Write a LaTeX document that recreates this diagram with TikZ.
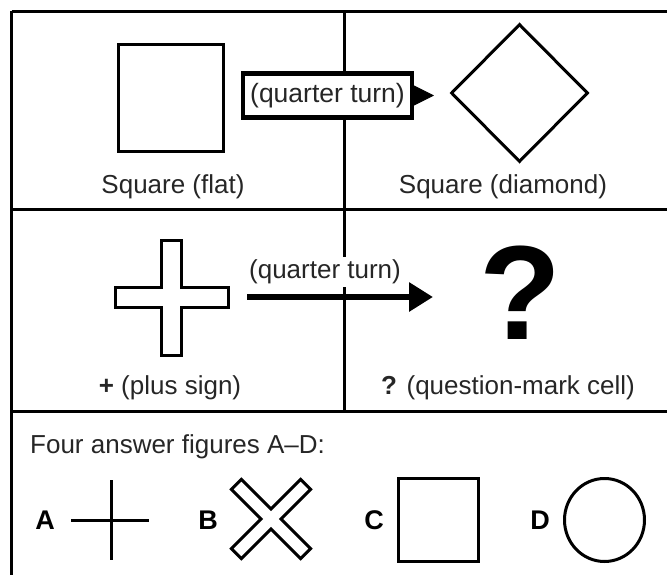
\documentclass[tikz,border=0pt]{standalone}
\usepackage{fontspec}
\setmainfont{Liberation Sans}
\usetikzlibrary{arrows.meta,shapes.geometric}
\begin{document}
\begin{tikzpicture}[x=1pt,y=-1pt,
  frame/.style={line width=3pt},
  shapeline/.style={line width=3pt, line join=miter},
  lbl/.style={inner sep=0pt, font=\fontsize{26}{30}\selectfont, text=black!85},
  letter/.style={inner sep=0pt, font=\fontsize{27}{30}\selectfont\bfseries},
  turnbox/.style={draw, line width=4.5pt, fill=white, minimum width=169pt, minimum height=44pt, inner sep=0pt, font=\fontsize{26.5}{30}\selectfont, text=black!85},
  bigarrow/.style={line width=6pt, -{Triangle[length=24pt,width=28pt]}},
  tiparrow/.style={line width=1pt, -{Triangle[length=22pt,width=22pt]}}
]
\useasboundingbox (0,0) rectangle (667,575);
\begin{scope}
\clip (0,0) rectangle (667,575);
% frame
\draw[frame] (11.5,11.5) -- (690,11.5);
\draw[frame] (11.5,11.5) -- (11.5,600);
\draw[frame] (11.5,209) -- (690,209);
\draw[frame] (11.5,411) -- (690,411);
\draw[frame] (344,11.5) -- (344,411);
\end{scope}

% row 1
\node[draw, shapeline, minimum width=105pt, minimum height=107pt, inner sep=0pt] (sqflat) at (170.5,98.5) {};
\node[draw, shapeline, shape=diamond, aspect=1, minimum width=137pt, minimum height=138pt, inner sep=0pt] (diam) at (519.5,93) {};
\node[turnbox] (qt1) at (327.5,95.5) {(quarter turn)};
\coordinate (t1) at (434,95.5);
\draw[tiparrow] (qt1.east) -- (t1);
\node[lbl] (lsq) at (173,187) {Square (flat)};
\node[lbl] (ldiam) at (503,187) {Square (diamond)};

% row 2
\draw[shapeline] (161.5,240) -- (181.5,240) -- (181.5,287.5) -- (228,287.5) -- (228,307.5) -- (181.5,307.5) -- (181.5,355) -- (161.5,355) -- (161.5,307.5) -- (115,307.5) -- (115,287.5) -- (161.5,287.5) -- cycle;
\coordinate (plusr) at (247,297);
\coordinate (qtip) at (433,297);
\draw[bigarrow] (plusr) -- (qtip);
\node[lbl, fill=white, inner ysep=3pt, inner xsep=2pt] (qt2) at (325,272) {(quarter turn)};
\node[inner sep=0pt, anchor=base, font=\fontsize{134}{136}\selectfont\bfseries] (qm) at (520,339) {?};
\node[lbl] (lplus) at (170,388) {\textbf{+} (plus sign)};
\node[lbl] (lqm) at (508,388) {\textbf{?} (question-mark cell)};

% row 3
\node[lbl, anchor=west] (four) at (30,447) {Four answer figures A–D:};
\node[letter] (la) at (45,520) {A};
\coordinate (ah1) at (71,520);
\coordinate (ah2) at (149,520);
\coordinate (av1) at (111,480);
\coordinate (av2) at (111,560);
\draw[line width=3pt] (ah1) -- (ah2);
\draw[line width=3pt] (av1) -- (av2);
\node[letter] (lb) at (208,520) {B};
\begin{scope}[shift={(271,519)}, rotate=45]
\draw[shapeline] (7,-49) -- (7,-7) -- (49,-7) -- (49,7) -- (7,7) -- (7,49) -- (-7,49) -- (-7,7) -- (-49,7) -- (-49,-7) -- (-7,-7) -- (-7,-49) -- cycle;
\end{scope}
\node[letter] (lc) at (374,520) {C};
\node[draw, shapeline, minimum width=80pt, minimum height=83pt, inner sep=0pt] (sqc) at (438.5,520) {};
\node[letter] (ld) at (540,520) {D};
\node[draw, line width=3pt, ellipse, minimum width=80pt, minimum height=83pt, inner sep=0pt] (circd) at (604.5,520) {};
\end{tikzpicture}
\end{document}
